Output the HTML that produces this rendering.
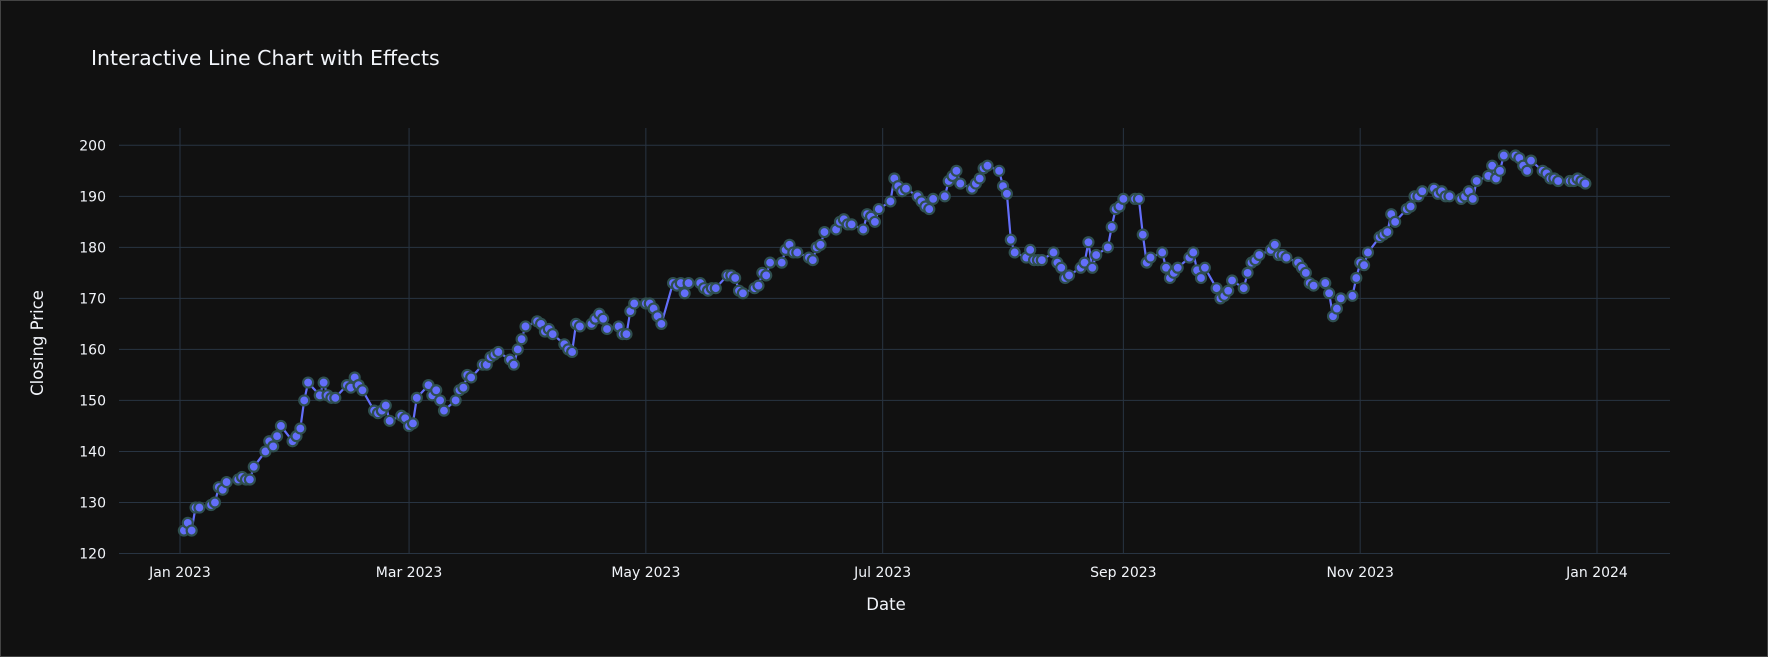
<!DOCTYPE html>
<html><head><meta charset="utf-8"><style>
html,body{margin:0;padding:0;background:#111111;}
#wrap{width:1766px;height:655px;border:1px solid #444;position:relative;background:#111111;overflow:hidden}
svg text{font-family:"DejaVu Sans","Liberation Sans",sans-serif;}
</style></head><body>
<div id="wrap">
<svg id="chart" width="1766" height="655"></svg>
</div>
<script>
const closingPrices = [
124.5,126,124.5,129,129, 129.5,130,133,132.5,134, 134.5,135,134.5,134.5,137,
140,142,141,143,145, 142,143,144.5,150,153.5, 151,153.5,151,150.5,150.5,
153,152.5,154.5,153,152, 148,147.5,148,149,146, 147,146.5,145,145.5,150.5,
153,151,152,150,148, 150,152,152.5,155,154.5, 157,157,158.5,159,159.5,
158,157,160,162,164.5, 165.5,165,163.5,164,163, 161,160,159.5,165,164.5,
165,166,167,166,164, 164.5,163,163,167.5,169, 169,169,168,166.5,165,
173,172.5,173,171,173, 173,172,171.5,172,172, 174.5,174.5,174,171.5,171,
172,172.5,175,174.5,177, 177,179.5,180.5,179,179, 178,177.5,180,180.5,183,
183.5,185,185.5,184.5,184.5, 183.5,186.5,186,185,187.5, 189,193.5,192,191,191.5,
190,189,188,187.5,189.5, 190,193,194,195,192.5, 191.5,192.5,193.5,195.5,196,
195,192,190.5,181.5,179, 178,179.5,177.5,177.5,177.5, 179,177,176,174,174.5,
176,177,181,176,178.5, 180,184,187.5,188,189.5, 189.5,189.5,182.5,177,178,
179,176,174,175,176, 178,179,175.5,174,176, 172,170,170.5,171.5,173.5,
172,175,177,177.5,178.5, 179.5,180.5,178.5,178.5,178, 177,176,175,173,172.5,
173,171,166.5,168,170, 170.5,174,177,176.5,179, 182,182.5,183,186.5,185,
187.5,188,190,190,191, 191.5,190.5,191,190,190, 189.5,190,191,189.5,193,
194,196,193.5,195,198, 198,197.5,196,195,197, 195,194.5,193.5,193.5,193,
193,193,193.5,193,192.5];
const yTicks = [120,130,140,150,160,170,180,190,200];
const xTickLabels = ["Jan 2023","Mar 2023","May 2023","Jul 2023","Sep 2023","Nov 2023","Jan 2024"];
const xTickDates = ["2023-01-01","2023-03-01","2023-05-01","2023-07-01","2023-09-01","2023-11-01","2024-01-01"];
const startDate = "2023-01-02";

const NS="http://www.w3.org/2000/svg";
const svg=document.getElementById('chart');
const L=118,R=1669,T=127,B=552;
const t0=Date.parse("2023-01-01T00:00:00Z"), t1=Date.parse("2024-01-01T00:00:00Z");
const xS=t=>179+(t-t0)/(t1-t0)*(1596-179);
const yS=v=>552.5-(v-120)/80*(552.5-144.3);
function el(tag,attrs,parent){const e=document.createElementNS(NS,tag);for(const k in attrs)e.setAttribute(k,attrs[k]);(parent||svg).appendChild(e);return e;}

const dates=[];let d=Date.parse(startDate+"T00:00:00Z");
while(dates.length<closingPrices.length){const wd=new Date(d).getUTCDay();if(wd!==0&&wd!==6)dates.push(d);d+=86400000;}

const grid=el('g',{});


yTicks.forEach(v=>{
  const y=yS(v);
  const ln=el('line',{x1:L,x2:R,y1:y,y2:y,stroke:'#283442','stroke-width':1},grid);
  
  
  const tx=el('text',{x:L-13,y:y+5,'text-anchor':'end',fill:'#f2f5fa','font-size':14});
  tx.textContent=v;
  
  
});
xTickDates.forEach((ds,i)=>{
  const x=xS(Date.parse(ds+"T00:00:00Z"));
  const ln=el('line',{x1:x,x2:x,y1:T,y2:B,stroke:'#283442','stroke-width':1},grid);
  
  
  const tx=el('text',{x:x,y:576,'text-anchor':'middle',fill:'#f2f5fa','font-size':14});
  tx.textContent=xTickLabels[i];
  
  
});

const pts=dates.map((t,i)=>xS(t).toFixed(1)+","+yS(closingPrices[i]).toFixed(1)).join(" ");
const line=el('polyline',{points:pts,fill:'none',stroke:'#636efa','stroke-width':2.2});


const mg=el('g',{});


dates.forEach((t,i)=>{
  const c=el('circle',{cx:xS(t),cy:yS(closingPrices[i]),r:5,fill:'#636efa',stroke:'#2f4f4f','stroke-width':2.2},mg);
  
  
});

const title=el('text',{x:90,y:64,fill:'#f2f5fa','font-size':20.5});
title.textContent="Interactive Line Chart with Effects";


const xt=el('text',{x:885,y:609,'text-anchor':'middle',fill:'#f2f5fa','font-size':16.5});
xt.textContent="Date";


const yt=el('text',{x:0,y:0,'text-anchor':'middle',fill:'#f2f5fa','font-size':16.5,transform:'translate(42,342) rotate(-90)'});
yt.textContent="Closing Price";


</script>
</body></html>
